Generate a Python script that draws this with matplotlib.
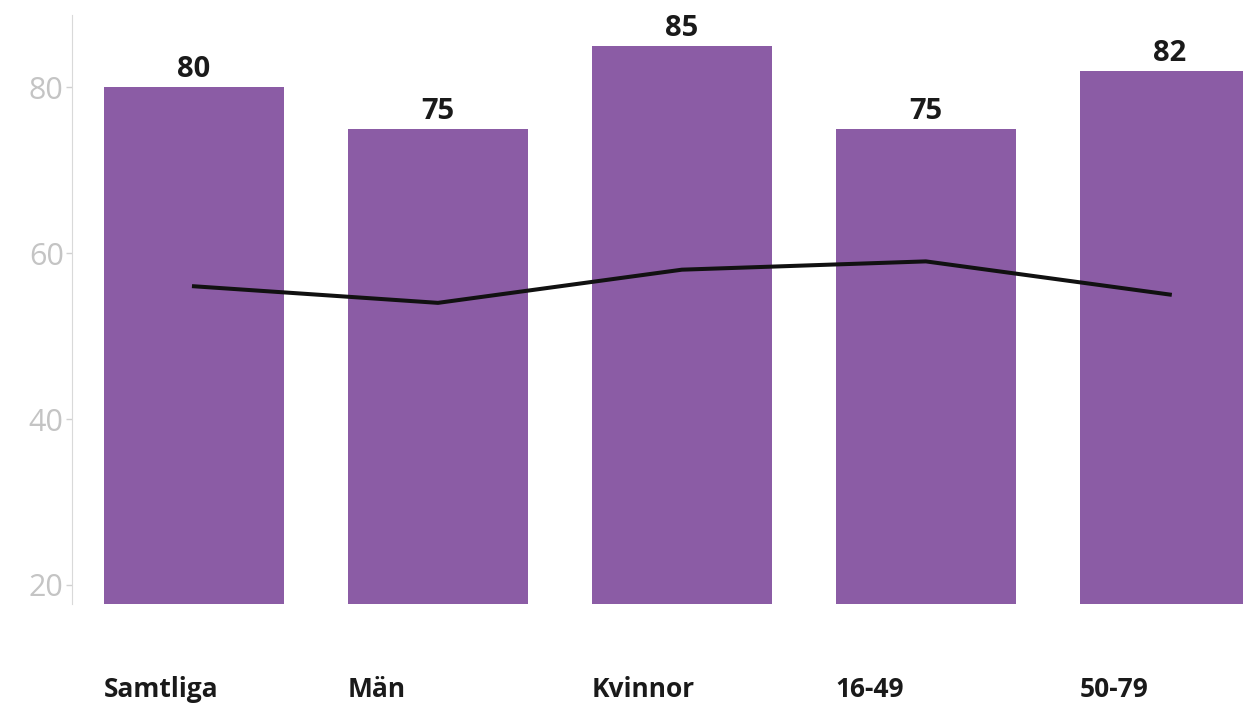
import matplotlib.pyplot as plt
import matplotlib.transforms as mtransforms

categories = ['Samtliga', 'Män', 'Kvinnor', '16-49', '50-79']
bar_values = [80, 75, 85, 75, 82]
line_values = [56, 54, 58, 59, 55]

plt.rcParams['font.family'] = ['Open Sans', 'DejaVu Sans']

fig = plt.figure(figsize=(12.43, 7.06), dpi=100)
ax = fig.add_axes([72 / 1243, 1 - 604 / 706, 1 - 72 / 1243, (604 - 15) / 706])

x = list(range(len(categories)))
ax.bar(x, bar_values, width=0.74, color='#8b5ca5', zorder=1)
ax.plot(x, line_values, color='#111111', lw=2.9, zorder=2)

# value labels above the bars
for i, v in enumerate(bar_values):
    ax.text(i, v + 1.2, str(v), ha='center', va='baseline', fontsize=21,
            fontweight='bold', color='#1a1a1a')

# category labels, left aligned under each bar
trans = mtransforms.blended_transform_factory(ax.transData, ax.transAxes)
for i, c in enumerate(categories):
    ax.text(i - 0.37, -0.158, c, transform=trans, ha='left', va='baseline',
            fontsize=19, fontweight='bold', color='#1a1a1a')

ax.set_xlim(-0.5, 4.30)
ax.set_ylim(17.7, 88.7)
ax.set_yticks([20, 40, 60, 80])
ax.tick_params(axis='y', labelsize=22, labelcolor='#c4c4c4', color='#d0d0d0',
               length=4, width=1, pad=2)
ax.set_xticks([])
for s in ['top', 'right', 'bottom']:
    ax.spines[s].set_visible(False)
ax.spines['left'].set_color('#d9d9d9')

plt.savefig('out.png')
